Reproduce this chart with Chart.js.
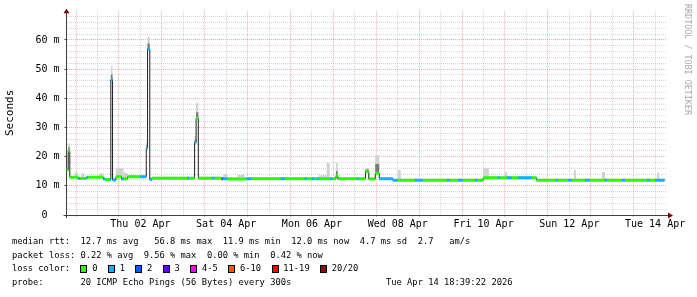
<!DOCTYPE html>
<html><head><meta charset="utf-8">
<script src="https://cdn.jsdelivr.net/npm/chart.js@4"></script>
<style>
html,body{margin:0;padding:0;background:#fff;}
#wrap{position:relative;width:697px;height:297px;overflow:hidden;background:#fff;}
#c{position:absolute;left:0;top:0;}
.mono{font-family:'DejaVu Sans Mono',monospace;color:#000;}
#legend{position:absolute;left:12px;top:234.9px;font-size:8.75px;}
.row{white-space:pre;height:13.67px;line-height:13.67px;}
.sq{display:inline-block;width:5px;height:6px;border:1px solid #000;margin-right:4.7px;vertical-align:-1.3px;}
.lab{margin-right:10.5px;}
#wm{position:absolute;left:683px;top:4px;writing-mode:vertical-rl;font-size:8.4px;line-height:10px;color:#aaa;white-space:pre;}
</style>
</head><body>
<div id="wrap">
<canvas id="c" width="697" height="297"></canvas>
<div id="legend" class="mono">
<div class="row">median rtt:  12.7 ms avg   56.8 ms max  11.9 ms min  12.0 ms now  4.7 ms sd  2.7   am/s</div>
<div class="row">packet loss: 0.22 % avg  9.56 % max  0.00 % min  0.42 % now</div>
<div class="row" id="lossRow">loss color:  </div>
<div class="row">probe:       20 ICMP Echo Pings (56 Bytes) every 300s                  Tue Apr 14 18:39:22 2026</div>
</div>
<div id="wm" class="mono">RRDTOOL / TOBI OETIKER</div>
</div>
<script>
// ---- data: hours since Wed 01 Apr 00:00, each value holds until the next start ----
const segHour = [-5.35,-4.40,-3.50,-0.87,1.20,2.21,3.05,4.73,5.85,6.80,
13.13,15.37,16.21,18.73,19.46,20.41,22.37,25.45,26.57,28.81,
35.81,39.28,40.01,41.24,42.53,62.13,63.25,66.33,67.17,68.40,
76.13,77.53,81.45,82.29,84.81,90.41,94.33,95.45,98.25,114.49,
116.73,127.93,129.05,131.85,133.53,134.65,135.77,140.25,141.93,143.61,
145.46,146.41,157.05,158.17,161.92,163.77,167.41,169.65,177.21,180.01,
181.69,189.53,194.01,207.45,209.13,213.61,216.41,223.13,224.81,227.78,
230.97,236.01,237.13,239.93,241.05,243.85,247.21,255.05,257.57,268.49,
269.61,275.21,277.45,278.57,279.69,284.73,287.53,294.25,295.93,297.05,
305.45,307.13,319.45,321.13,323.93,325.05,326.17];
const endHour = 329.29;

const medianMs = [15.4,22.0,12.9,12.9,12.5,12.5,12.5,12.5,12.9,12.9,
12.9,12.3,12.2,12.2,46.3,12.0,13.1,12.3,12.4,13.1,
13.1,22.9,56.9,12.2,12.6,12.6,12.6,24.8,33.1,12.6,
12.6,12.6,12.4,12.4,12.35,12.35,12.35,12.4,12.45,12.45,
12.45,12.45,12.45,12.45,12.45,12.45,12.45,12.45,12.45,12.45,
13.5,12.45,12.45,12.45,14.8,12.3,14.3,12.45,11.9,11.9,
11.9,11.9,11.9,11.9,11.9,11.9,11.9,11.9,11.9,12.8,
12.8,12.8,12.8,12.8,12.8,12.8,12.8,12.8,11.9,11.9,
11.9,11.9,11.9,11.9,11.9,11.9,11.9,11.9,11.9,11.9,
11.9,11.9,11.9,11.9,11.9,11.9,11.9];

const lossCount = [0,0,0,0,1,0,0,0,1,0,
0,1,0,1,1,1,0,1,0,0,
1,1,1,1,0,1,0,1,0,0,
1,0,2,1,0,0,0,1,0,1,
0,1,0,1,0,1,0,0,1,0,
0,0,1,0,0,0,0,1,1,0,
0,1,0,1,0,1,0,1,0,0,
0,1,0,0,1,0,1,0,0,1,
0,1,0,0,0,1,0,0,1,0,
1,0,1,0,1,1,1];

const smokeHiMs = [16.2,24.6,13.4,14.6,13.1,13.1,14.3,13.0,13.4,13.4,
14.3,12.9,12.8,12.8,51.0,12.6,16.0,16.0,14.5,13.6,
13.6,25.5,61.0,13.0,13.1,13.1,13.1,27.0,38.5,13.1,
13.1,13.1,13.0,14.0,12.9,13.7,12.9,12.9,12.9,12.9,
12.9,12.9,12.9,12.9,12.9,12.9,13.6,17.8,12.9,12.9,
17.9,12.9,12.9,12.9,16.0,12.9,20.6,13.0,12.4,15.4,
12.4,12.4,12.4,12.4,12.4,12.4,12.4,12.4,12.4,16.0,
13.3,13.3,13.3,14.8,13.3,13.3,13.3,13.3,12.4,12.4,
12.4,12.4,12.4,15.4,12.4,12.4,12.4,14.7,12.4,12.4,
12.4,12.4,12.4,12.4,12.4,14.5,12.4];

const smokeMidMs = [15.4,23.2,12.9,12.9,12.5,12.5,12.5,12.5,12.9,12.9,
12.9,12.3,12.2,12.2,48.2,12.0,13.1,12.3,12.4,13.1,
13.1,24.0,58.8,12.2,12.6,12.6,12.6,25.8,35.2,12.6,
12.6,12.6,12.4,12.4,12.35,12.35,12.35,12.4,12.45,12.45,
12.45,12.45,12.45,12.45,12.45,12.45,12.45,12.45,12.45,12.45,
15.0,12.45,12.45,12.45,15.6,12.3,17.5,12.45,11.9,11.9,
11.9,11.9,11.9,11.9,11.9,11.9,11.9,11.9,11.9,12.8,
12.8,12.8,12.8,12.8,12.8,12.8,12.8,12.8,11.9,11.9,
11.9,11.9,11.9,11.9,11.9,11.9,11.9,11.9,11.9,11.9,
11.9,11.9,11.9,11.9,11.9,11.9,11.9];

const xMinHour = -5.35, xMaxHour = 330.65;
const xLabelHours = [36,84,132,180,228,276,324];
const xLabels = ['Thu 02 Apr','Sat 04 Apr','Mon 06 Apr','Wed 08 Apr','Fri 10 Apr','Sun 12 Apr','Tue 14 Apr'];
const yMaxMs = 70;
const yLabelValues = [0,10,20,30,40,50,60];
const yLabels = ['0  ','10 m','20 m','30 m','40 m','50 m','60 m'];
const lossLabels = ['0','1','2','3','4-5','6-10','11-19','20/20'];
const lossColors = ['#26ff00','#00b8ff','#0059ff','#5e00ff','#ff00ff','#ff5500','#ff0000','#a10000'];

// ---- styling ----
const MONO = "'DejaVu Sans Mono', monospace";
const GRID_MINOR = 'rgba(143,143,143,0.36)';
const GRID_MAJOR = 'rgba(240,0,0,0.32)';
const AXIS = '#404040';
const ARROW = '#7f0000';

function lossIndex(l){ if(l<=3) return l; if(l<=5) return 4; if(l<=10) return 5; if(l<=19) return 6; return 7; }

// legend loss row
const lossRow = document.getElementById('lossRow');
lossLabels.forEach((t,i)=>{
  const s=document.createElement('span'); s.className='sq'; s.style.background=lossColors[i]; lossRow.appendChild(s);
  const l=document.createElement('span'); l.className='lab'; l.textContent=t; lossRow.appendChild(l);
});

function stepPts(vals){
  const pts = segHour.map((h,i)=>({x:h,y:vals[i]}));
  pts.push({x:endHour,y:vals[vals.length-1]});
  return pts;
}
const colorPts = [];
segHour.forEach((h,i)=>{
  const e = i+1<segHour.length ? segHour[i+1] : endHour;
  colorPts.push({x:h,y:medianMs[i]},{x:e,y:medianMs[i]},{x:e,y:null});
});

const xGridHours = []; for(let h=0; h<=xMaxHour; h+=12) xGridHours.push(h);
const yGridValues = []; for(let v=0; v<yMaxMs; v+=2) yGridValues.push(v);

const axisArrows = {
  id:'axisArrows',
  afterDraw(chart){
    const {ctx, chartArea:a} = chart;
    const lx = Math.round(a.left-0.5)+0.5, by = Math.round(a.bottom-0.5)+0.5;
    ctx.save();
    ctx.strokeStyle = AXIS; ctx.lineWidth = 1;
    ctx.beginPath(); ctx.moveTo(lx, a.top); ctx.lineTo(lx, a.top-1); ctx.stroke();
    ctx.beginPath(); ctx.moveTo(lx, a.bottom); ctx.lineTo(lx, a.bottom+3); ctx.stroke();
    ctx.beginPath(); ctx.moveTo(a.left-3, by); ctx.lineTo(a.left, by); ctx.stroke();
    ctx.beginPath(); ctx.moveTo(a.right, by); ctx.lineTo(a.right+2, by); ctx.stroke();
    ctx.fillStyle = ARROW;
    ctx.beginPath(); ctx.moveTo(lx-3, a.top+2.5); ctx.lineTo(lx+3, a.top+2.5); ctx.lineTo(lx, a.top-2); ctx.closePath(); ctx.fill();
    ctx.beginPath(); ctx.moveTo(a.right+1, by-3); ctx.lineTo(a.right+1, by+3); ctx.lineTo(a.right+6, by); ctx.closePath(); ctx.fill();
    ctx.restore();
  }
};

function zeroPad(s){ s.paddingLeft=0; s.paddingRight=0; s.paddingTop=0; s.paddingBottom=0; }

new Chart(document.getElementById('c'), {
  type:'line',
  data:{ datasets:[
    { data: colorPts, borderWidth:3, spanGaps:false, pointRadius:0, order:0, borderCapStyle:'butt',
      segment:{ borderColor: ctx => lossColors[lossIndex(lossCount[Math.floor(ctx.p0DataIndex/3)])] },
      borderColor: lossColors[0] },
    { data: stepPts(medianMs), stepped:true, borderColor:'#202020', borderWidth:1, pointRadius:0, order:1 },
    { data: stepPts(smokeMidMs), stepped:true, borderColor:'rgba(0,0,0,0)', borderWidth:0, pointRadius:0, fill:4, backgroundColor:'#7a7a7a', order:2 },
    { data: stepPts(smokeHiMs), stepped:true, borderColor:'rgba(0,0,0,0)', borderWidth:0, pointRadius:0, fill:4, backgroundColor:'#d2d2d2', order:3 },
    { data: stepPts(medianMs), stepped:true, borderColor:'rgba(0,0,0,0)', borderWidth:0, pointRadius:0, fill:false, order:4 }
  ]},
  options:{
    responsive:false, animation:false, devicePixelRatio:1,
    layout:{ padding:{ left:0, right:30, top:10.8, bottom:62 } },
    plugins:{ legend:{display:false}, tooltip:{enabled:false} },
    scales:{
      x:{ type:'linear', min:xMinHour, max:xMaxHour,
        afterBuildTicks: s => { s.ticks = xGridHours.map(v=>({value:v})); },
        afterFit: s => { s.height = 20; zeroPad(s); },
        ticks:{ autoSkip:false, maxRotation:0, minRotation:0, padding:0, color:'#000', font:{family:MONO, size:10},
          callback: v => { const i = xLabelHours.indexOf(v); return i>=0 ? xLabels[i] : ''; } },
        grid:{ drawTicks:true, tickLength:3, tickWidth:1, tickBorderDash:[1,1],
          tickColor: c => (c.tick && c.tick.value % 24 === 0) ? GRID_MAJOR : 'rgba(0,0,0,0)',
          lineWidth:1, color: c => (c.tick && c.tick.value % 24 === 0) ? GRID_MAJOR : GRID_MINOR },
        border:{ display:true, color:AXIS, width:1, dash:[1,1] }
      },
      y:{ type:'linear', min:0, max:yMaxMs,
        afterBuildTicks: s => { s.ticks = yGridValues.map(v=>({value:v})); },
        afterFit: s => { s.width = 66.5; zeroPad(s); },
        ticks:{ autoSkip:false, padding:5, color:'#000', font:{family:MONO, size:10},
          callback: v => { const i = yLabelValues.indexOf(v); return i>=0 ? yLabels[i] : ''; } },
        grid:{ drawTicks:true, tickLength:2, tickWidth:1, tickBorderDash:[],
          tickColor: c => (c.tick && c.tick.value % 10 === 0) ? AXIS : 'rgba(0,0,0,0)',
          lineWidth:1, color: c => (c.tick && c.tick.value % 10 === 0) ? GRID_MAJOR : GRID_MINOR },
        border:{ display:true, color:AXIS, width:1, dash:[1,1] },
        title:{ display:true, text:'Seconds', color:'#000', font:{family:MONO, size:11}, padding:{top:4,bottom:0} }
      }
    }
  },
  plugins:[axisArrows]
});
</script>
</body></html>
